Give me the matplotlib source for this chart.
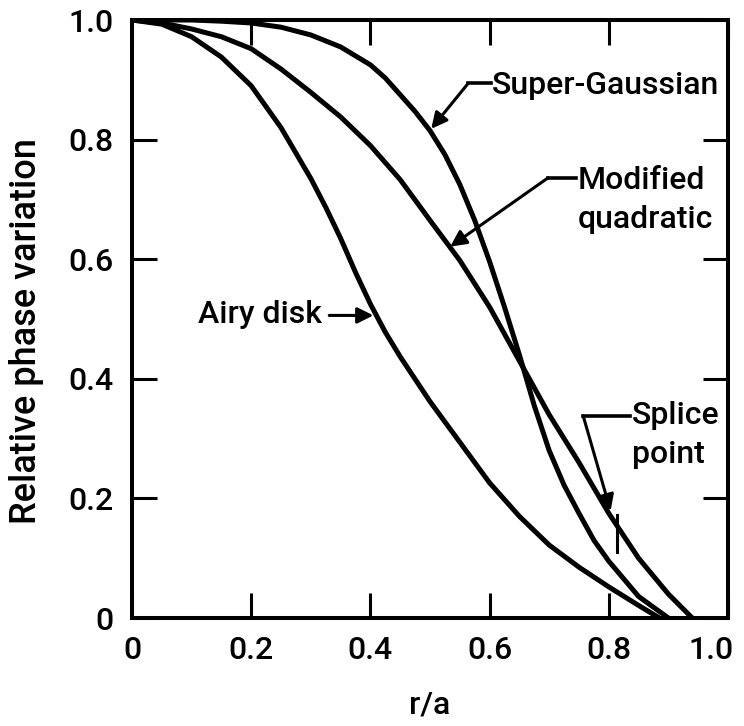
import matplotlib
matplotlib.use("Agg")
import matplotlib.pyplot as plt
from matplotlib.transforms import ScaledTranslation

plt.rcParams['font.family'] = ['Roboto', 'Liberation Sans', 'DejaVu Sans']
plt.rcParams['font.weight'] = 500

# ---- data ----
airy_x = [0.0, 0.05, 0.10, 0.15, 0.20, 0.25, 0.30, 0.325, 0.35, 0.375, 0.40, 0.425, 0.45,
          0.50, 0.55, 0.60, 0.65, 0.70, 0.75, 0.80, 0.85, 0.885]
airy_y = [1.0, 0.993, 0.972, 0.938, 0.89, 0.82, 0.735, 0.687, 0.635, 0.578, 0.525, 0.478, 0.437,
          0.362, 0.294, 0.226, 0.170, 0.122, 0.085, 0.052, 0.021, 0.0]

mq_x = [0.0, 0.05, 0.10, 0.15, 0.20, 0.25, 0.30, 0.35, 0.40, 0.45, 0.50, 0.55,
        0.60, 0.65, 0.70, 0.75, 0.80, 0.85, 0.90, 0.94]
mq_y = [1.0, 0.995, 0.985, 0.972, 0.952, 0.918, 0.879, 0.838, 0.79, 0.733, 0.665, 0.598,
        0.52, 0.43, 0.34, 0.26, 0.175, 0.10, 0.04, 0.0]

sg_x = [0.0, 0.10, 0.15, 0.20, 0.25, 0.30, 0.35, 0.40, 0.425, 0.45, 0.475, 0.50, 0.525,
        0.55, 0.575, 0.60, 0.625, 0.65, 0.675, 0.70, 0.725, 0.75, 0.775, 0.80, 0.85, 0.90]
sg_y = [1.0, 1.0, 0.998, 0.995, 0.988, 0.975, 0.955, 0.925, 0.903, 0.875, 0.847, 0.815, 0.775,
        0.725, 0.665, 0.596, 0.52, 0.44, 0.355, 0.28, 0.222, 0.175, 0.13, 0.095, 0.036, 0.0]

ticks = [0.0, 0.2, 0.4, 0.6, 0.8, 1.0]
tick_labels = ['0', '0.2', '0.4', '0.6', '0.8', '1.0']

W, H = 744, 726
fig = plt.figure(figsize=(W / 100, H / 100), dpi=100)
ax = fig.add_axes([132 / W, 108 / H, 596 / W, 598 / H])

lw = 3.6
for xs, ys in ((airy_x, airy_y), (mq_x, mq_y), (sg_x, sg_y)):
    ax.plot(xs, ys, color='black', lw=lw, solid_capstyle='butt', solid_joinstyle='round')

ax.set_xlim(0, 1)
ax.set_ylim(0, 1)
ax.set_xticks(ticks)
ax.set_xticklabels(tick_labels)
ax.set_yticks(ticks)
ax.set_yticklabels(tick_labels)
ax.tick_params(direction='in', length=18, width=2.2, labelsize=23, pad=13,
               top=True, right=True)
for s in ax.spines.values():
    s.set_linewidth(2.9)

# last x tick label sits flush with the right frame, as in the reference
last = ax.get_xticklabels()[-1]
last.set_horizontalalignment('right')
last.set_transform(last.get_transform() + ScaledTranslation(6 / 100, 0, fig.dpi_scale_trans))

fs = 23
akw = dict(arrowstyle='-|>', lw=2.2, color='black', mutation_scale=24,
           shrinkA=0, shrinkB=0)

# Super-Gaussian
ax.text(0.603, 0.891, 'Super-Gaussian', fontsize=fs, ha='left', va='center')
ax.plot([0.602, 0.564], [0.894, 0.894], color='black', lw=2.6)
ax.annotate('', xy=(0.502, 0.818), xytext=(0.564, 0.894), arrowprops=akw)

# Modified quadratic
ax.text(0.748, 0.731, 'Modified', fontsize=fs, ha='left', va='center')
ax.text(0.748, 0.666, 'quadratic', fontsize=fs, ha='left', va='center')
ax.plot([0.745, 0.698], [0.736, 0.736], color='black', lw=2.6)
ax.annotate('', xy=(0.534, 0.621), xytext=(0.698, 0.736), arrowprops=akw)

# Airy disk
ax.text(0.318, 0.507, 'Airy disk', fontsize=fs, ha='right', va='center')
ax.annotate('', xy=(0.405, 0.506), xytext=(0.331, 0.506), arrowprops=akw)

# Splice point
ax.text(0.839, 0.338, 'Splice', fontsize=fs, ha='left', va='center')
ax.text(0.839, 0.273, 'point', fontsize=fs, ha='left', va='center')
ax.plot([0.836, 0.757], [0.338, 0.338], color='black', lw=2.6)
ax.annotate('', xy=(0.803, 0.179), xytext=(0.757, 0.338), arrowprops=akw)
ax.plot([0.813, 0.813], [0.173, 0.111], color='black', lw=2.2)

fig.text(430 / W, 1 - 705 / H, 'r/a', fontsize=fs, ha='center', va='center')
fig.text(27 / W, 1 - 331 / H, 'Relative phase variation', fontsize=26,
         ha='center', va='center', rotation=90)

fig.savefig('out.png', dpi=100, facecolor='white')
